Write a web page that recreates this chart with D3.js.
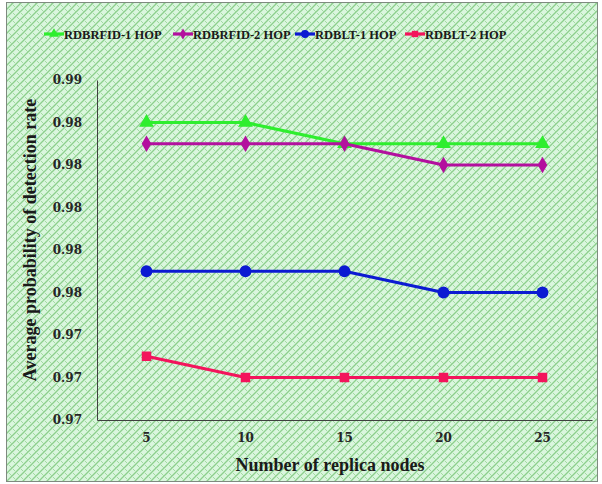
<!DOCTYPE html>
<html>
<head>
<meta charset="utf-8">
<script src="https://cdn.jsdelivr.net/npm/d3@7/dist/d3.min.js"></script>
<style>
  html, body { margin: 0; padding: 0; background: #ffffff; }
  svg { display: block; }
  text { font-family: "Liberation Serif", "DejaVu Serif", serif; font-weight: bold; }
</style>
</head>
<body>
<svg id="chart" width="602" height="484"></svg>
<script>
// Replica node counts on the x axis
const categories = ["5", "10", "15", "20", "25"];

// Average probability of detection rate per scheme
const seriesNames = ["RDBRFID-1 HOP", "RDBRFID-2 HOP", "RDBLT-1 HOP", "RDBLT-2 HOP"];
const rdbrfid1 = [0.984, 0.984, 0.983, 0.983, 0.983];
const rdbrfid2 = [0.983, 0.983, 0.983, 0.982, 0.982];
const rdblt1   = [0.977, 0.977, 0.977, 0.976, 0.976];
const rdblt2   = [0.973, 0.972, 0.972, 0.972, 0.972];

// Y axis ticks (labels are shown to two decimals)
const yTicks = [0.970, 0.972, 0.974, 0.976, 0.978, 0.980, 0.982, 0.984, 0.986];

const seriesColors = ["#2EEE2E", "#B3109E", "#0C1AD2", "#F3145C"];
const seriesSymbols = [d3.symbolTriangle, d3.symbolDiamond, d3.symbolCircle, d3.symbolSquare];
const symbolSizes = [95, 80, 110, 90];

const series = [rdbrfid1, rdbrfid2, rdblt1, rdblt2].map((vals, i) => ({
  name: seriesNames[i], values: vals, color: seriesColors[i],
  symbol: seriesSymbols[i], size: symbolSizes[i]
}));

const svg = d3.select("#chart");

// Shingle-like green hatch used as the chart fill
const defs = svg.append("defs");
const pat = defs.append("pattern")
  .attr("id", "hatch")
  .attr("patternUnits", "userSpaceOnUse")
  .attr("width", 8).attr("height", 8);
pat.append("rect").attr("width", 8).attr("height", 8).attr("fill", "#daf6de");
pat.append("path")
  .attr("d", "M0,8 L8,0 M-2,2 L2,-2 M6,10 L10,6")
  .attr("stroke", "#8ccf8c").attr("stroke-width", 1.3).attr("fill", "none");
pat.append("path")
  .attr("d", "M1,1 L4,4 M5,5 L7,7")
  .attr("stroke", "#a2daa2").attr("stroke-width", 1).attr("fill", "none");

// Chart area frame
svg.append("rect")
  .attr("x", 6.5).attr("y", 2.5).attr("width", 591).attr("height", 479)
  .attr("fill", "url(#hatch)")
  .attr("stroke", "#7f8a80").attr("stroke-width", 1);

const plot = { left: 97, right: 592, top: 80, bottom: 420 };

const x = d3.scaleBand()
  .domain(categories)
  .range([plot.left, plot.right]);

const y = d3.scaleLinear()
  .domain([yTicks[0], yTicks[yTicks.length - 1]])
  .range([plot.bottom, plot.top]);

const fmt = d3.format(".2f");
const tickFont = "'DejaVu Serif', serif";

// Y axis
const yAxis = svg.append("g")
  .attr("transform", `translate(${plot.left},0)`)
  .call(d3.axisLeft(y).tickValues(yTicks).tickFormat(fmt).tickSize(0).tickPadding(15));
yAxis.select(".domain").attr("stroke", "#404040").attr("stroke-width", 1);
yAxis.selectAll("text")
  .attr("font-size", 12).attr("fill", "#262626")
  .style("font-family", tickFont).style("font-weight", "bold");

// X axis
const xAxis = svg.append("g")
  .attr("transform", `translate(0,${plot.bottom})`)
  .call(d3.axisBottom(x).tickSize(0).tickPadding(13));
xAxis.select(".domain").attr("stroke", "#404040").attr("stroke-width", 1);
xAxis.selectAll("text")
  .attr("font-size", 12).attr("fill", "#262626")
  .style("font-family", tickFont).style("font-weight", "bold");

// Axis titles
svg.append("text")
  .attr("x", 330)
  .attr("y", 471)
  .attr("text-anchor", "middle")
  .attr("font-size", 18).attr("fill", "#1a1a1a")
  .text("Number of replica nodes");

svg.append("text")
  .attr("transform", "translate(36,240) rotate(-90)")
  .attr("text-anchor", "middle")
  .attr("font-size", 18).attr("fill", "#1a1a1a")
  .text("Average probability of detection rate");

// Lines and markers
const cx = c => x(c) + x.bandwidth() / 2;
const line = d3.line()
  .x((d, i) => cx(categories[i]))
  .y(d => y(d));

series.forEach(s => {
  svg.append("path")
    .datum(s.values)
    .attr("d", line)
    .attr("fill", "none")
    .attr("stroke", s.color)
    .attr("stroke-width", 3.2)
    .attr("stroke-linejoin", "round");
  svg.append("g").selectAll("path")
    .data(s.values)
    .join("path")
    .attr("transform", (d, i) => `translate(${cx(categories[i])},${y(d)})`)
    .attr("d", d3.symbol().type(s.symbol).size(s.size))
    .attr("fill", s.color);
});

// Legend
const legendX = [44, 173, 295, 405];
const legend = svg.append("g");
series.forEach((s, i) => {
  const g = legend.append("g").attr("transform", `translate(${legendX[i]},34)`);
  g.append("line")
    .attr("x1", 0).attr("x2", 20).attr("y1", 0).attr("y2", 0)
    .attr("stroke", s.color).attr("stroke-width", 3.2);
  g.append("path")
    .attr("transform", "translate(10,0)")
    .attr("d", d3.symbol().type(s.symbol).size(s.size * 0.45))
    .attr("fill", s.color);
  g.append("text")
    .attr("x", 20).attr("y", 4.5)
    .attr("font-size", 12.5).attr("fill", "#1a1a1a")
    .text(s.name);
});
</script>
</body>
</html>
